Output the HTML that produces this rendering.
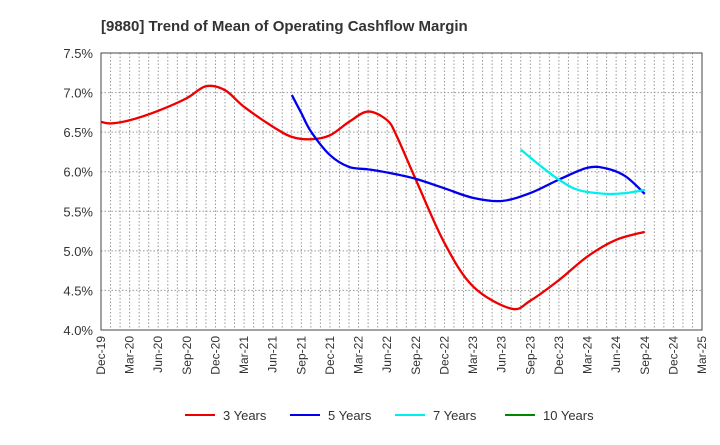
<!DOCTYPE html>
<html><head><meta charset="utf-8"><style>
body{margin:0;background:#fff;font-family:"Liberation Sans",sans-serif}
</style></head><body>
<svg id="chart" width="720" height="440" xmlns="http://www.w3.org/2000/svg">
<text x="101" y="31" font-size="15" font-weight="bold" fill="#333">[9880]  Trend of Mean of Operating Cashflow Margin</text>
<g id="grid"></g><g id="axes"></g><g id="series"></g><g id="legend"></g>
</svg>
<script>
const xLabels=["Dec-19","Mar-20","Jun-20","Sep-20","Dec-20","Mar-21","Jun-21","Sep-21","Dec-21","Mar-22","Jun-22","Sep-22","Dec-22","Mar-23","Jun-23","Sep-23","Dec-23","Mar-24","Jun-24","Sep-24","Dec-24","Mar-25"];
const yTicks=[4.0,4.5,5.0,5.5,6.0,6.5,7.0,7.5];
// month offsets from Dec-19
const m3=[0,1,3,6,9,11,13,15,18,20,22,24,26,28,30,31,33,36,39,43,45,48,51,54,57];
const v3=[6.63,6.61,6.65,6.77,6.93,7.08,7.03,6.82,6.57,6.44,6.41,6.46,6.63,6.76,6.65,6.45,5.90,5.10,4.55,4.27,4.37,4.63,4.93,5.14,5.24];
const m5=[20,21,22,24,26,28,30,33,36,39,42,45,48,51,53,55,57];
const v5=[6.97,6.74,6.51,6.21,6.06,6.03,5.99,5.91,5.79,5.67,5.63,5.73,5.90,6.05,6.04,5.94,5.72];
const m7=[44,46,48,50,53,55,57];
const v7=[6.28,6.08,5.90,5.77,5.72,5.73,5.77];
const m10=[];const v10=[];
const X0=101,X1=702,Y0=53,Y1=330,NM=63;
const xs=m=>X0+(X1-X0)*m/NM;
const ys=v=>Y1-(v-4.0)/(3.5)*(Y1-Y0);
const NS="http://www.w3.org/2000/svg";
function mk(t,a,p){const e=document.createElementNS(NS,t);for(const k in a)e.setAttribute(k,a[k]);p.appendChild(e);return e;}
const grid=document.getElementById('grid'),axes=document.getElementById('axes');
for(let m=1;m<NM;m++){const l=mk('line',{x1:xs(m),x2:xs(m),y1:Y0,y2:Y1,stroke:'#999','stroke-dasharray':'1.5,2','stroke-width':1},grid);

}
yTicks.forEach(v=>{const l=mk('line',{x1:X0,x2:X1,y1:ys(v),y2:ys(v),stroke:'#999','stroke-dasharray':'1.5,2','stroke-width':1},grid);


const t=mk('text',{x:X0-8,y:ys(v)+5,'text-anchor':'end','font-size':13,fill:'#333'},axes);t.textContent=v.toFixed(1)+'%';

});
xLabels.forEach((s,i)=>{const x=xs(i*3);const t=mk('text',{x:0,y:0,transform:`translate(${x+4},${Y1+6}) rotate(-90)`,'text-anchor':'end','font-size':12,fill:'#333'},axes);t.textContent=s;

});
const fr=mk('rect',{x:X0,y:Y0,width:X1-X0,height:Y1-Y0,fill:'none',stroke:'#444','stroke-width':1},axes);


function path(ms,vs){const p=ms.map((m,i)=>[xs(m),ys(vs[i])]);if(!p.length)return '';let d=`M${p[0][0]},${p[0][1]}`;
for(let i=0;i<p.length-1;i++){const a=p[i-1]||p[i],b=p[i],c=p[i+1],e=p[i+2]||c;
d+=` C${b[0]+(c[0]-a[0])/6},${b[1]+(c[1]-a[1])/6} ${c[0]-(e[0]-b[0])/6},${c[1]-(e[1]-b[1])/6} ${c[0]},${c[1]}`;}return d;}
const ser=document.getElementById('series');
[[m3,v3,'#e00','line-3-years'],[m5,v5,'#00e','line-5-years'],[m7,v7,'#0ee','line-7-years'],[m10,v10,'#080','line-10-years']].forEach(s=>{
if(!s[0].length)return;const p=mk('path',{d:path(s[0],s[1]),fill:'none',stroke:s[2],'stroke-width':2.3},ser);

});
const lg=document.getElementById('legend');
[['3 Years','#e00',185],['5 Years','#00e',290],['7 Years','#0ee',395],['10 Years','#080',505]].forEach(e=>{
const g=mk('g',{},lg);


mk('line',{x1:e[2],x2:e[2]+30,y1:415,y2:415,stroke:e[1],'stroke-width':2},g);
const t=mk('text',{x:e[2]+38,y:420,'font-size':13,fill:'#333'},g);t.textContent=e[0];});
</script>
</body></html>
